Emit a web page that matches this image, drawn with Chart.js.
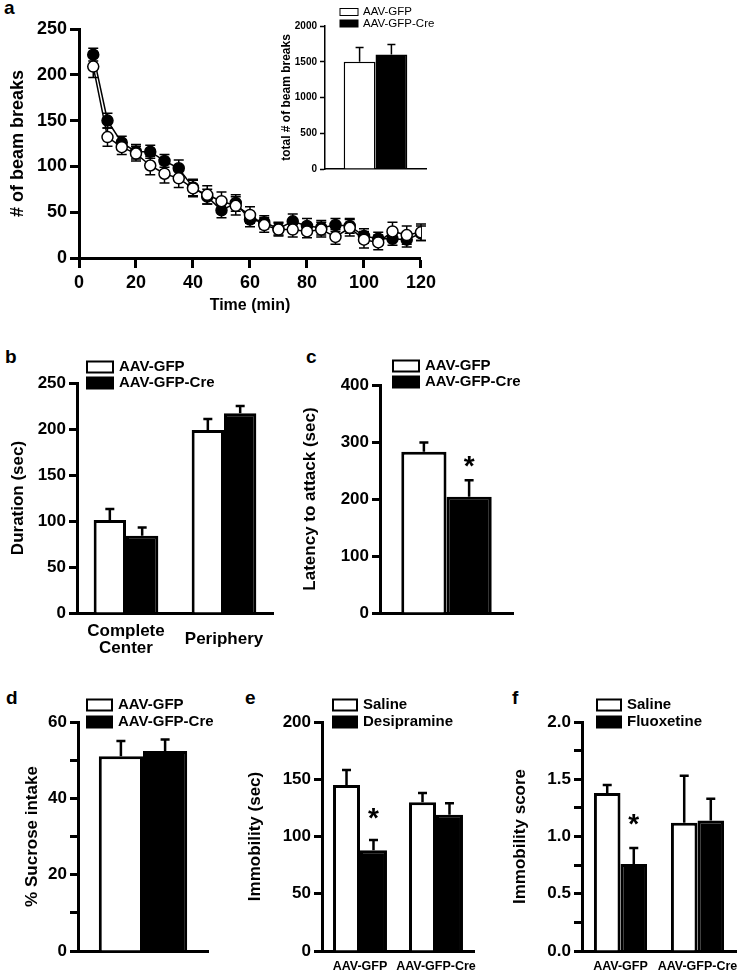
<!DOCTYPE html>
<html>
<head>
<meta charset="utf-8">
<script src="https://cdn.jsdelivr.net/npm/chart.js@4.4.0/dist/chart.umd.min.js"></script>
<style>
  body { margin: 0; background: #fff; width: 748px; height: 975px; position: relative; overflow: hidden;
         font-family: 'Liberation Sans', Arial, sans-serif; }
  canvas { position: absolute; }
  .letter { position: absolute; font-weight: bold; font-size: 19px; line-height: 19px; }
</style>
</head>
<body>
<div class="letter" style="left:4px;top:-2px">a</div>
<div class="letter" style="left:5px;top:347px">b</div>
<div class="letter" style="left:306px;top:347px">c</div>
<div class="letter" style="left:6px;top:688px">d</div>
<div class="letter" style="left:245px;top:688px">e</div>
<div class="letter" style="left:512px;top:688px">f</div>

<canvas id="cA" width="440" height="320" style="left:0;top:0"></canvas>
<canvas id="cInset" width="170" height="185" style="left:270px;top:0"></canvas>
<canvas id="cB" width="290" height="320" style="left:0;top:340px"></canvas>
<canvas id="cC" width="240" height="320" style="left:290px;top:340px"></canvas>
<canvas id="cD" width="240" height="315" style="left:0;top:660px"></canvas>
<canvas id="cE" width="255" height="315" style="left:240px;top:660px"></canvas>
<canvas id="cF" width="253" height="315" style="left:495px;top:660px"></canvas>

<script>
// ---- data ----
var timeMin   = [5,10,15,20,25,30,35,40,45,50,55,60,65,70,75,80,85,90,95,100,105,110,115,120]
var gfpBeam   = [209,132,121,114,101,92,87,76,69,62,57,47,36,31,31,29,31,23,33,20,17,29,25,28]
var gfpBeamErr= [12,10,8,8,10,10,10,9,10,10,10,9,8,7,8,7,8,8,9,9,8,10,10,9]
var creBeam   = [222,150,126,116,116,106,98,77,67,52,60,42,39,32,40,35,33,36,35,24,21,21,20,27]
var creBeamErr= [7,8,7,8,7,7,9,9,8,8,9,8,7,7,8,8,8,7,8,8,7,7,8,8]

var groupNames   = ['AAV-GFP', 'AAV-GFP-Cre']
var totalGfp     = [1500], totalGfpErr = [200]
var totalCre     = [1600], totalCreErr = [140]

var openFieldCats = [['Complete', 'Center'], 'Periphery']
var durGfp = [101, 199], durGfpErr = [12, 12]
var durCre = [84, 217],  durCreErr = [9, 8]

var latGfp = [283], latGfpErr = [16]
var latCre = [204], latCreErr = [29], latStars = ['*']

var sucGfp = [51], sucGfpErr = [4]
var sucCre = [52.4], sucCreErr = [3]

var fstCats   = ['AAV-GFP', 'AAV-GFP-Cre']
var fstSaline = [145, 130], fstSalineErr = [13, 8]
var fstDesi   = [88, 119],  fstDesiErr = [9, 10], fstStars = ['*', null]

var tstSaline = [1.38, 1.12], tstSalineErr = [0.07, 0.41]
var tstFluox  = [0.76, 1.14], tstFluoxErr = [0.14, 0.19], tstStars = ['*', null]

var FONT = "'Liberation Sans', Arial, sans-serif"

// ---- small plugins ----
var errorBars = {
  id: 'errorBars',
  beforeDatasetsDraw: function (chart, args, o) {
    var ctx = chart.ctx, ys = chart.scales.y
    chart.data.datasets.forEach(function (ds, i) {
      if (!ds.errors) return
      chart.getDatasetMeta(i).data.forEach(function (el, j) {
        var v = typeof ds.data[j] === 'object' ? ds.data[j].y : ds.data[j]
        var top = ys.getPixelForValue(v + ds.errors[j])
        var bot = o.both ? ys.getPixelForValue(v - ds.errors[j]) : el.y
        ctx.save()
        ctx.strokeStyle = '#000'
        ctx.lineWidth = o.lineWidth
        ctx.beginPath()
        ctx.moveTo(el.x, top); ctx.lineTo(el.x, bot)
        ctx.moveTo(el.x - o.cap / 2, top); ctx.lineTo(el.x + o.cap / 2, top)
        if (o.both) { ctx.moveTo(el.x - o.cap / 2, bot); ctx.lineTo(el.x + o.cap / 2, bot) }
        ctx.stroke()
        ctx.restore()
      })
    })
  }
}

var stars = {
  id: 'stars',
  afterDatasetsDraw: function (chart, args, o) {
    var ctx = chart.ctx, ys = chart.scales.y
    chart.data.datasets.forEach(function (ds, i) {
      if (!ds.stars) return
      chart.getDatasetMeta(i).data.forEach(function (el, j) {
        if (!ds.stars[j]) return
        var y = ys.getPixelForValue(ds.data[j] + ds.errors[j]) - o.offset
        ctx.save()
        ctx.fillStyle = '#000'
        ctx.font = 'bold 28px ' + FONT
        ctx.textAlign = 'center'
        ctx.textBaseline = 'alphabetic'
        ctx.fillText(ds.stars[j], el.x, y)
        ctx.restore()
      })
    })
  }
}

var boxLegend = {
  id: 'boxLegend',
  afterDraw: function (chart, args, o) {
    if (!o || o.x === undefined) return
    var ctx = chart.ctx
    chart.data.datasets.forEach(function (ds, i) {
      var cy = o.y + i * o.rowH
      ctx.save()
      ctx.fillStyle = ds.backgroundColor
      ctx.fillRect(o.x, cy - o.boxH / 2, o.boxW, o.boxH)
      ctx.strokeStyle = '#000'
      ctx.lineWidth = o.lw
      ctx.strokeRect(o.x, cy - o.boxH / 2, o.boxW, o.boxH)
      ctx.fillStyle = '#000'
      ctx.font = o.font
      ctx.textAlign = 'left'
      ctx.textBaseline = 'middle'
      ctx.fillText(ds.label, o.x + o.boxW + o.gap, cy)
      ctx.restore()
    })
  }
}

function yAxis(o) {
  return {
    min: 0, max: o.max,
    ticks: {
      stepSize: o.step, color: '#000', padding: o.tickPad || 3,
      font: { family: FONT, weight: 'bold', size: o.tickSize || 17 },
      callback: o.cb || function (v) { return v }
    },
    grid: { display: true, drawOnChartArea: false, drawTicks: true, tickLength: o.tickLen || 8,
            tickWidth: o.lw || 3, tickColor: '#000' },
    border: { display: true, color: '#000', width: o.lw || 3 },
    title: { display: true, text: o.title, color: '#000',
             font: { family: FONT, weight: 'bold', size: o.titleSize || 17 },
             padding: { top: o.titlePad, bottom: 0 } },
    afterFit: function (s) { s.width = o.width }
  }
}

function xCat(o) {
  return {
    ticks: { display: !!o.labels, color: '#000', padding: o.pad || 0, maxRotation: 0, autoSkip: false,
             crossAlign: o.crossAlign || 'near',
             font: { family: FONT, weight: 'bold', size: o.size || 13, lineHeight: o.lh || 1.2 } },
    grid: { display: false },
    border: { display: true, color: '#000', width: o.lw || 3 },
    afterFit: function (s) { s.height = o.height }
  }
}

function barSet(label, data, errs, white, bw, extra) {
  var d = {
    label: label, data: data, errors: errs,
    backgroundColor: white ? '#ffffff' : '#000000',
    borderColor: '#000', borderWidth: bw,
    barPercentage: 1.0
  }
  if (extra) for (var k in extra) d[k] = extra[k]
  return d
}

function barChart(id, cfg) {
  return new Chart(document.getElementById(id), {
    type: 'bar',
    data: { labels: cfg.labels, datasets: cfg.datasets },
    options: {
      responsive: false, animation: false,
      layout: { autoPadding: false, padding: { left: 0, top: cfg.padTop, right: cfg.padRight, bottom: 0 } },
      plugins: {
        legend: { display: false }, tooltip: { enabled: false },
        errorBars: cfg.err, stars: { offset: cfg.starOffset || 0 }, boxLegend: cfg.legend
      },
      scales: { x: cfg.x, y: cfg.y }
    },
    plugins: [errorBars, stars, boxLegend]
  })
}

// ---- panel a: beam breaks over time ----
new Chart(document.getElementById('cA'), {
  type: 'line',
  data: {
    datasets: [{
      label: 'AAV-GFP',
      data: timeMin.map(function (t, i) { return { x: t, y: gfpBeam[i] } }),
      errors: gfpBeamErr,
      borderColor: '#000', borderWidth: 1.5,
      pointRadius: 5.5, pointBorderWidth: 1.5,
      pointBackgroundColor: '#fff', pointBorderColor: '#000',
      lineTension: 0
    }, {
      label: 'AAV-GFP-Cre',
      data: timeMin.map(function (t, i) { return { x: t, y: creBeam[i] } }),
      errors: creBeamErr,
      borderColor: '#000', borderWidth: 1.5,
      pointRadius: 5.5, pointBorderWidth: 1.5,
      pointBackgroundColor: '#000', pointBorderColor: '#000',
      lineTension: 0
    }]
  },
  options: {
    responsive: false, animation: false,
    layout: { autoPadding: false, padding: { left: 0, top: 29, right: 18, bottom: 0 } },
    plugins: { legend: { display: false }, tooltip: { enabled: false },
               errorBars: { lineWidth: 1.5, cap: 10, both: true } },
    scales: {
      x: {
        type: 'linear', min: 0, max: 120,
        ticks: { stepSize: 20, color: '#000', padding: 4, font: { family: FONT, weight: 'bold', size: 18 } },
        grid: { display: true, drawOnChartArea: false, drawTicks: true, tickLength: 10, tickWidth: 3, tickColor: '#000' },
        border: { display: true, color: '#000', width: 3 },
        title: { display: true, text: 'Time (min)', color: '#000',
                 font: { family: FONT, weight: 'bold', size: 16 }, padding: { top: 0, bottom: 5 } },
        afterFit: function (s) { s.height = 62 }
      },
      y: yAxis({ max: 250, step: 50, title: '# of beam breaks', titleSize: 18, titlePad: 7,
                 width: 79, tickSize: 18, tickLen: 9 })
    }
  },
  plugins: [errorBars]
})

// ---- inset: total beam breaks ----
barChart('cInset', {
  labels: [''],
  datasets: [barSet(groupNames[0], totalGfp, totalGfpErr, true, 1.5, { categoryPercentage: 0.63 }),
             barSet(groupNames[1], totalCre, totalCreErr, false, 1.5, { categoryPercentage: 0.63 })],
  padTop: 26, padRight: 14,
  err: { lineWidth: 1.5, cap: 8 },
  legend: { x: 70, y: 12, rowH: 11.5, boxW: 18, boxH: 7, gap: 5, lw: 1, font: '11.5px ' + FONT },
  x: xCat({ height: 16, lw: 1.5 }),
  y: yAxis({ max: 2000, step: 500, title: 'total # of beam breaks', titleSize: 12, titlePad: 9,
             width: 55, tickSize: 10, tickLen: 5, lw: 1.5, tickPad: 3 })
})

// ---- panel b: open field ----
barChart('cB', {
  labels: openFieldCats,
  datasets: [barSet(groupNames[0], durGfp, durGfpErr, true, 3, { categoryPercentage: 0.66 }),
             barSet(groupNames[1], durCre, durCreErr, false, 3, { categoryPercentage: 0.66 })],
  padTop: 43, padRight: 17,
  err: { lineWidth: 2.5, cap: 9 },
  legend: { x: 87, y: 27, rowH: 16, boxW: 26, boxH: 11, gap: 6, lw: 2, font: 'bold 15px ' + FONT },
  x: xCat({ labels: true, height: 47, pad: 10, size: 17, lh: 1.0, crossAlign: 'center' }),
  y: yAxis({ max: 250, step: 50, title: 'Duration (sec)', titlePad: 8, width: 77 })
})

// ---- panel c: latency to attack ----
barChart('cC', {
  labels: [''],
  datasets: [barSet(groupNames[0], latGfp, latGfpErr, true, 3, { categoryPercentage: 0.68 }),
             barSet(groupNames[1], latCre, latCreErr, false, 3, { categoryPercentage: 0.68, stars: latStars })],
  padTop: 45, padRight: 17,
  err: { lineWidth: 2.5, cap: 9 },
  starOffset: 5,
  legend: { x: 103, y: 26, rowH: 16, boxW: 26, boxH: 11, gap: 6, lw: 2, font: 'bold 15px ' + FONT },
  x: xCat({ height: 47 }),
  y: yAxis({ max: 400, step: 100, title: 'Latency to attack (sec)', titlePad: 10, width: 90 })
})

// ---- panel d: sucrose intake ----
barChart('cD', {
  labels: [''],
  datasets: [barSet(groupNames[0], sucGfp, sucGfpErr, true, 3, { categoryPercentage: 0.68 }),
             barSet(groupNames[1], sucCre, sucCreErr, false, 3, { categoryPercentage: 0.68 })],
  padTop: 62, padRight: 32,
  err: { lineWidth: 2.5, cap: 9 },
  legend: { x: 87, y: 45, rowH: 17, boxW: 25, boxH: 11, gap: 6, lw: 2, font: 'bold 15px ' + FONT },
  x: xCat({ height: 24 }),
  y: yAxis({ max: 60, step: 10, title: '% Sucrose intake', titlePad: 22, width: 78,
             cb: function (v) { return v % 20 === 0 ? v : '' } })
})

// ---- panel e: forced swim, desipramine ----
barChart('cE', {
  labels: fstCats,
  datasets: [barSet('Saline', fstSaline, fstSalineErr, true, 3, { categoryPercentage: 0.71 }),
             barSet('Desipramine', fstDesi, fstDesiErr, false, 3, { categoryPercentage: 0.71, stars: fstStars })],
  padTop: 62, padRight: 21,
  err: { lineWidth: 2.5, cap: 9 },
  starOffset: 13,
  legend: { x: 93, y: 45, rowH: 17, boxW: 24, boxH: 11, gap: 6, lw: 2, font: 'bold 15px ' + FONT },
  x: xCat({ labels: true, height: 24, pad: 1, size: 12.5, lh: 1.0 }),
  y: yAxis({ max: 200, step: 50, title: 'Immobility (sec)', titlePad: 5, width: 82 })
})

// ---- panel f: tail suspension, fluoxetine ----
barChart('cF', {
  labels: fstCats,
  datasets: [barSet('Saline', tstSaline, tstSalineErr, true, 3, { categoryPercentage: 0.69 }),
             barSet('Fluoxetine', tstFluox, tstFluoxErr, false, 3, { categoryPercentage: 0.69, stars: tstStars })],
  padTop: 62, padRight: 12,
  err: { lineWidth: 2.5, cap: 9 },
  starOffset: 15,
  legend: { x: 102, y: 45, rowH: 17, boxW: 24, boxH: 11, gap: 6, lw: 2, font: 'bold 15px ' + FONT },
  x: xCat({ labels: true, height: 24, pad: 1, size: 12.5, lh: 1.0 }),
  y: yAxis({ max: 2, step: 0.25, title: 'Immobility score', titlePad: 15, width: 87,
             cb: function (v) { return Math.abs(v * 2 - Math.round(v * 2)) < 1e-6 ? v.toFixed(1) : '' } })
})
</script>
</body>
</html>
